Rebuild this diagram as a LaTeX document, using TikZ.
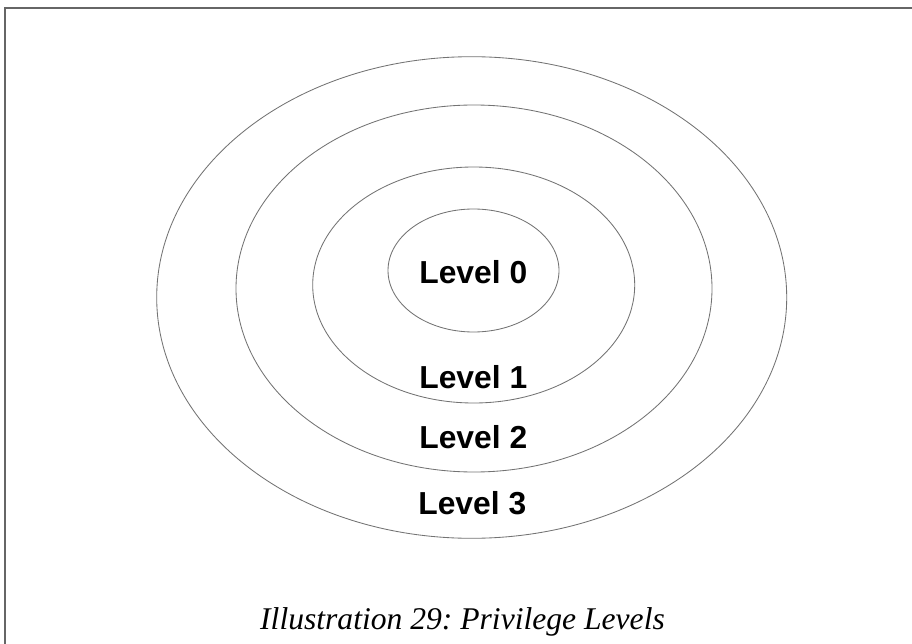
\documentclass[tikz,border=0pt]{standalone}
\usepackage{fontspec}
\setmainfont{Liberation Serif}
\setsansfont{Liberation Sans}
\usetikzlibrary{shapes.geometric, positioning}
\frenchspacing

\begin{document}
\begin{tikzpicture}[x=1pt, y=-1pt,
    ring/.style={ellipse, draw=black!55, line width=0.85pt, inner sep=0pt},
    level/.style={font=\sffamily\bfseries\fontsize{31.8}{36}\selectfont,
                  anchor=base, inner sep=0pt},
    caption/.style={font=\itshape\fontsize{31.6}{38}\selectfont,
                    anchor=base, inner sep=0pt}]
\useasboundingbox (0,0) rectangle (912,644);

% frame
\draw[black!60, line width=1.6pt] (912,7.8) -- (4.8,7.8) -- (4.8,644);

% rings, outer to inner
\node[ring, minimum width=630pt, minimum height=481.6pt] (ring3) at (471.7,297.5) {};
\node[ring, minimum width=476pt, minimum height=367pt] (ring2) at (474,288.5) {};
\node[ring, minimum width=322pt, minimum height=236pt] (ring1) at (473.7,285) {};
\node[ring, minimum width=171pt, minimum height=123pt] (ring0) at (473.5,270.5) {};

\node[level] (lvl0) at (473.3,283) {Level 0};
\node[level] (lvl1) at (473.3,388.3) {Level 1};
\node[level] (lvl2) at (473.3,448.3) {Level 2};
\node[level] (lvl3) at (472.3,514) {Level 3};

\node[caption] (cap) at (462.5,629) {Illustration 29: Privilege Levels};
\end{tikzpicture}
\end{document}
